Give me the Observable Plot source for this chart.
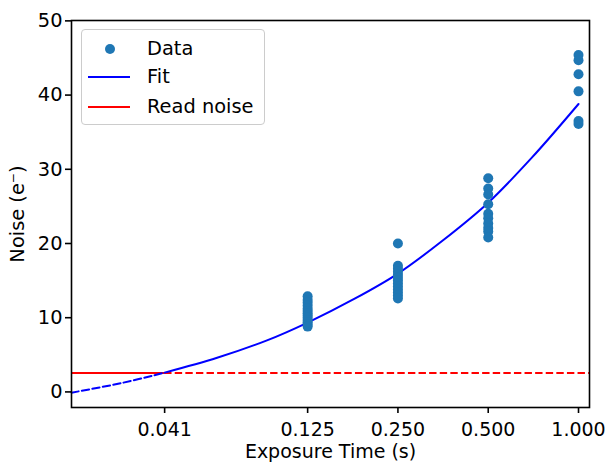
<!DOCTYPE html>
<html>
<head>
<meta charset="utf-8">
<script src="https://cdn.jsdelivr.net/npm/d3@7"></script>
<script src="https://cdn.jsdelivr.net/npm/@observablehq/plot@0.6"></script>
<style>
  html, body { margin: 0; padding: 0; background: white; }
  #wrap { position: relative; width: 607px; height: 463px; font-family: "DejaVu Sans", sans-serif; }
  #legend { position: absolute; left: 81px; top: 29px; width: 184px; height: 96px;
    border: 1px solid #cccccc; border-radius: 4px; background: rgba(255,255,255,0.8); box-sizing: border-box; }
  #legend .item { position: absolute; left: 0; height: 28px; width: 100%; }
  #legend svg { position: absolute; left: 0; top: 0; }
  #legend span { position: absolute; left: 65px; top: 50%; transform: translateY(-50%); font-size: 19.4px; color: #000; white-space: nowrap; line-height: 1; }
</style>
</head>
<body>
<div id="wrap"></div>
<script>
// ---- data ----
const exposures = [0.125, 0.25, 0.5, 1.0];
const noise0125 = [12.9, 12.4, 12.0, 11.6, 11.2, 10.9, 10.6, 10.3, 10.0, 9.7, 9.4, 9.1, 8.8];
const noise0250 = [20.0, 17.0, 16.6, 16.2, 15.8, 15.4, 15.0, 14.6, 14.2, 13.8, 13.4, 13.0, 12.6];
const noise0500 = [28.8, 27.4, 26.6, 25.3, 24.0, 23.4, 22.7, 22.1, 21.6, 20.8];
const noise1000 = [45.4, 44.7, 42.8, 40.5, 36.5, 36.1];
const fitT = [0.0204, 0.03, 0.0417, 0.0624, 0.0915, 0.125, 0.18, 0.25, 0.35, 0.5, 0.7, 1.0];
const fitN = [-0.1, 1.2, 2.6, 4.6, 6.95, 9.35, 12.6, 15.95, 20.3, 25.5, 31.6, 38.8];
const readNoise = 2.55;
const crossT = 0.0417;
const xDomain = [0.0204, 1.088];
const yDomain = [-2.1, 50.05];
const xTicks = [0.0417, 0.125, 0.25, 0.5, 1.0];
const xTickLabels = ["0.041", "0.125", "0.250", "0.500", "1.000"];
const yTicks = [0, 10, 20, 30, 40, 50];
const xLabel = "Exposure Time (s)";
const yLabel = "Noise (e\u207B)";
const legendLabels = ["Data", "Fit", "Read noise"];

// ---- build tables ----
const points = [];
[noise0125, noise0250, noise0500, noise1000].forEach((arr, i) =>
  arr.forEach(v => points.push({t: exposures[i], n: v})));
const fit = fitT.map((t, i) => ({t, n: fitN[i]}));
const fitDashed = fit.filter(d => d.t <= crossT);
const fitSolid = fit.filter(d => d.t >= crossT);

const dotColor = "#1f77b4";
const dash = "7.4,3.2";

const chart = Plot.plot({
  width: 607, height: 463,
  marginLeft: 71, marginRight: 18, marginTop: 20, marginBottom: 56,
  style: {fontFamily: "DejaVu Sans", fontSize: "19px", color: "black", background: "white", overflow: "visible"},
  x: {type: "log", domain: xDomain},
  y: {domain: yDomain},
  marks: [
    Plot.ruleY([readNoise], {x1: xDomain[0], x2: crossT, stroke: "red", strokeWidth: 2}),
    Plot.ruleY([readNoise], {x1: crossT, x2: xDomain[1], stroke: "red", strokeWidth: 2, strokeDasharray: dash}),
    Plot.line(fitDashed, {x: "t", y: "n", stroke: "blue", strokeWidth: 2, strokeDasharray: dash, curve: "catmull-rom"}),
    Plot.line(fitSolid, {x: "t", y: "n", stroke: "blue", strokeWidth: 2, curve: "catmull-rom"}),
    Plot.dot(points, {x: "t", y: "n", r: 5, fill: dotColor, stroke: "none"}),
    Plot.frame({stroke: "black", strokeWidth: 1.6}),
    Plot.axisX({ticks: xTicks, tickFormat: d => xTickLabels[xTicks.indexOf(d)], tickSize: 6, tickPadding: 9, strokeWidth: 1.6, label: null, fontSize: 19}),
    Plot.axisY({ticks: yTicks, tickSize: 6, tickPadding: 3, strokeWidth: 1.6, label: null, fontSize: 19.4}),
    Plot.text([xLabel], {frameAnchor: "bottom", text: d => d, dy: 44.5, fontSize: 19, textAnchor: "middle", lineAnchor: "middle"}),
    Plot.text([yLabel], {frameAnchor: "left", text: d => d, dx: -54, rotate: -90, fontSize: 19.4, textAnchor: "middle", lineAnchor: "middle"})
  ]
});

const wrap = document.getElementById("wrap");
wrap.appendChild(chart);

// legend overlay (HTML, styled like matplotlib)
const legend = document.createElement("div");
legend.id = "legend";
const ys = [19, 47, 77];
legendLabels.forEach((lab, i) => {
  const item = document.createElement("div");
  item.className = "item";
  item.style.top = (ys[i] - 14) + "px";
  let icon;
  if (i === 0) icon = `<svg width="60" height="28"><circle cx="28" cy="14" r="5" fill="${dotColor}"/></svg>`;
  else icon = `<svg width="60" height="28"><line x1="6" x2="48" y1="14" y2="14" stroke="${i === 1 ? "blue" : "red"}" stroke-width="2"/></svg>`;
  item.innerHTML = icon + `<span>${lab}</span>`;
  legend.appendChild(item);
});
wrap.appendChild(legend);
</script>
</body>
</html>
